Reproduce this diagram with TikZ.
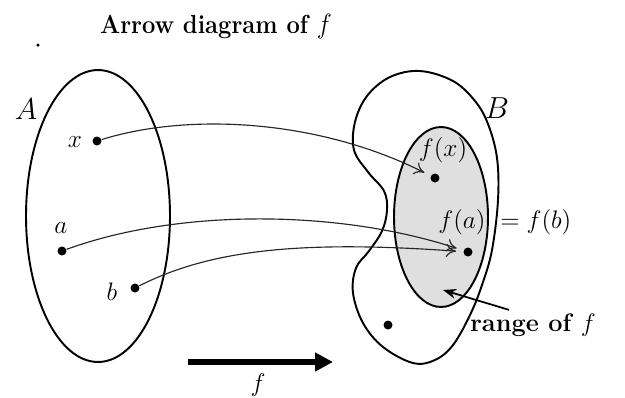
\documentclass[tikz,border=0pt]{standalone}
\usepackage{amsmath,amssymb}
\usepackage{tikz}
\usetikzlibrary{arrows.meta,positioning,shapes.geometric}

\begin{document}
\begin{tikzpicture}[
  x=0.02cm, y=-0.02cm,
  font=\Large,
  dot/.style={circle, fill=black, inner sep=0pt, minimum size=0.18cm},
  lbl/.style={inner sep=1pt},
  setline/.style={line width=1.1pt},
  maparrow/.style={-{To[length=2mm,width=2.6mm]}, line width=0.65pt,
                   black!85, shorten >=0.14cm},
  >=Stealth
]
\useasboundingbox (0,0) rectangle (625,397);

%% --- title ---
\node[font=\fontsize{13.5}{15}\selectfont\bfseries, yscale=1.1] (title) at (216,27)
  {Arrow diagram of $f$};
\node[dot, minimum size=0.07cm] (speck) at (38,45) {};

%% --- set A ---
\node[setline, draw, ellipse, minimum width=2.88cm, minimum height=5.84cm]
  (A) at (98,216) {};
\node[font=\LARGE] (lA) at (26,109) {$A$};

%% --- set B and range ---
\draw[setline] plot[smooth cycle, tension=0.6] coordinates {
  (420,71) (453,81) (475,101) (488,124) (497,158) (498,200) (492,250)
  (482,285) (470,315) (453,345) (435,360) (413,363) (383,347) (363,323)
  (353,293) (356,268) (369,251) (382,231) (387,210) (384,191) (368,172)
  (354,150) (355,122) (367,96) (390,77)};
\node[font=\LARGE] (lB) at (497,108) {$B$};
\node[setline, draw, ellipse, fill=gray!25, minimum width=1.88cm,
      minimum height=3.6cm] (R) at (441,217) {};

%% --- points ---
\node[dot] (px) at (97,141) {};
\node[dot] (pa) at (62,251) {};
\node[dot] (pb) at (135,288) {};
\node[dot] (pfx) at (435,178) {};
\node[dot] (pfa) at (468,252) {};
\node[dot] (pz) at (388,325) {};

\node[lbl] (lx) at (75,142) {$x$};
\node[lbl] (la) at (61,228) {$a$};
\node[lbl] (lb) at (112,292) {$b$};
\node[lbl] (lfx) at (443,150) {$f(x)$};
\node[lbl] (lfa) at (462,222) {$f(a)$};
\node[lbl, right=6pt of lfa.east, anchor=west] (lfb) {$=f(b)$};

%% --- the map ---
\draw[maparrow] (px) .. controls (190,112) and (320,120) .. (pfx);
\draw[maparrow] (pa) .. controls (180,208) and (340,210) .. (pfa);
\draw[maparrow] (pb) .. controls (210,250) and (300,240) .. (pfa);

%% --- range label ---
\node[font=\Large\bfseries] (rng) at (533,325) {range of $f$};
\coordinate (rtip) at (443,290);
\draw[->, line width=1pt] ([xshift=0.9cm,yshift=-0.05cm]rng.north west) -- (rtip);

%% --- big arrow ---
\coordinate (fstart) at (188,362);
\coordinate (fend) at (333,362);
\draw[line width=3.4pt, -{Triangle[length=0.36cm,width=0.36cm]}] (fstart) -- (fend);
\node (lf) at (258,385) {$f$};
\end{tikzpicture}
\end{document}
